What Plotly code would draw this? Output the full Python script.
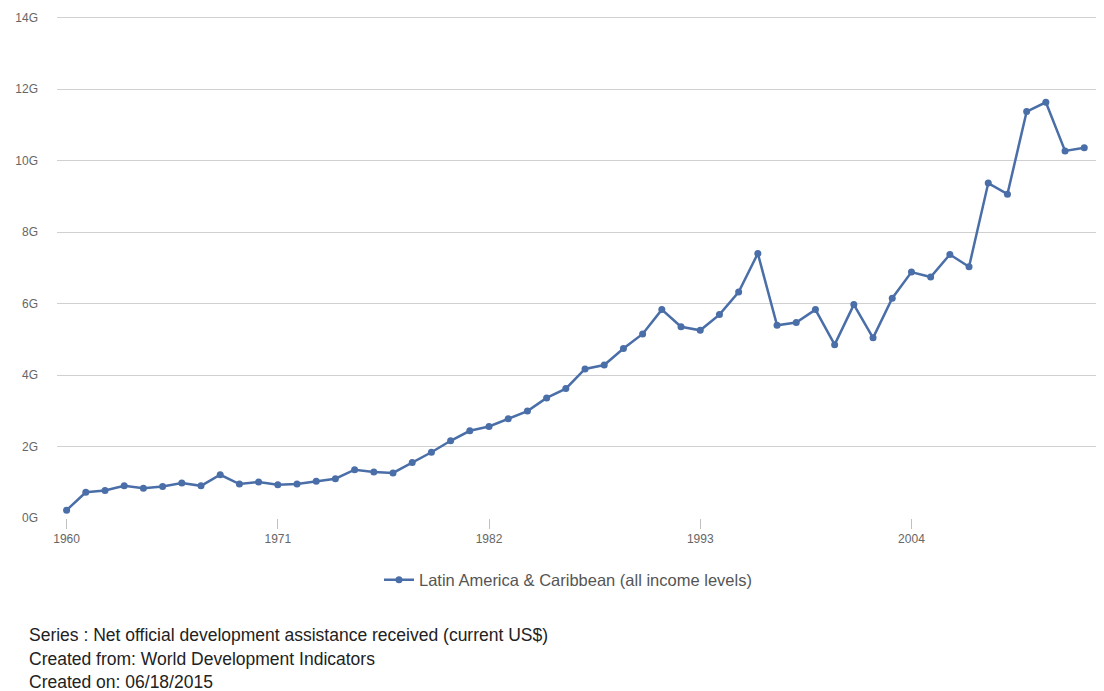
import plotly.graph_objects as go

years = list(range(1960, 2014))
values_g = [
    0.22, 0.72, 0.77, 0.90, 0.83, 0.88, 0.98, 0.90, 1.21, 0.95,
    1.01, 0.93, 0.95, 1.03, 1.10, 1.35, 1.29, 1.26, 1.55, 1.84,
    2.16, 2.44, 2.56, 2.78, 2.99, 3.36, 3.62, 4.17, 4.28, 4.74,
    5.15, 5.83, 5.35, 5.25, 5.69, 6.32, 7.40, 5.39, 5.47, 5.83,
    4.85, 5.97, 5.04, 6.15, 6.88, 6.74, 7.37, 7.03, 9.37, 9.06,
    11.37, 11.63, 10.27, 10.36,
]
values = [v * 1e9 for v in values_g]
series_name = "Latin America & Caribbean (all income levels)"
x_ticks = [1960, 1971, 1982, 1993, 2004]
y_ticks = [0, 2e9, 4e9, 6e9, 8e9, 10e9, 12e9, 14e9]
y_tick_labels = ["0G", "2G", "4G", "6G", "8G", "10G", "12G", "14G"]
notes = [
    "Series : Net official development assistance received (current US$)",
    "Created from: World Development Indicators",
    "Created on: 06/18/2015",
]
note_y = [-0.232, -0.279, -0.349]
note_anchor = ["middle", "middle", "bottom"]

color = "#4a6ea8"
font_family = "Liberation Sans, Arial, sans-serif"

fig = go.Figure()
fig.add_trace(go.Scatter(
    x=years, y=values, name=series_name, mode="lines+markers",
    line=dict(color=color, width=2.5),
    marker=dict(color=color, size=7),
    showlegend=True,
))

fig.update_layout(
    width=1096, height=683,
    margin=dict(l=49, r=4, t=6, b=173, autoexpand=False),
    paper_bgcolor="white", plot_bgcolor="white",
    font=dict(family=font_family, color="#666666"),
    xaxis=dict(
        range=[1959.5, 2013.82], tickmode="array", tickvals=x_ticks,
        ticktext=[str(t) for t in x_ticks],
        showgrid=False, zeroline=False, showline=False, automargin=False,
        ticks="outside", ticklen=10, tickcolor="#c0c0c0", tickwidth=1,
        tickfont=dict(size=12, color="#666666"),
    ),
    yaxis=dict(
        range=[0, 14.1e9], tickmode="array", tickvals=y_ticks,
        ticktext=y_tick_labels, automargin=False,
        showgrid=True, gridcolor="#d0d0d0", gridwidth=1,
        zeroline=False, showline=False, ticks="", ticklabelstandoff=18,
        tickfont=dict(size=12, color="#666666"),
    ),
    legend=dict(
        orientation="h", x=(379 - 57) / 1043, xanchor="left", y=-0.123, yanchor="middle",
        font=dict(size=16.5, color="#555555"),
    ),
)

for i, note in enumerate(notes):
    fig.add_annotation(
        text=note, xref="paper", yref="paper",
        x=-0.0288, y=note_y[i],
        xanchor="left", yanchor=note_anchor[i], showarrow=False,
        font=dict(size=17.5, color="#222222", family=font_family),
    )

fig.write_html("out.html")
